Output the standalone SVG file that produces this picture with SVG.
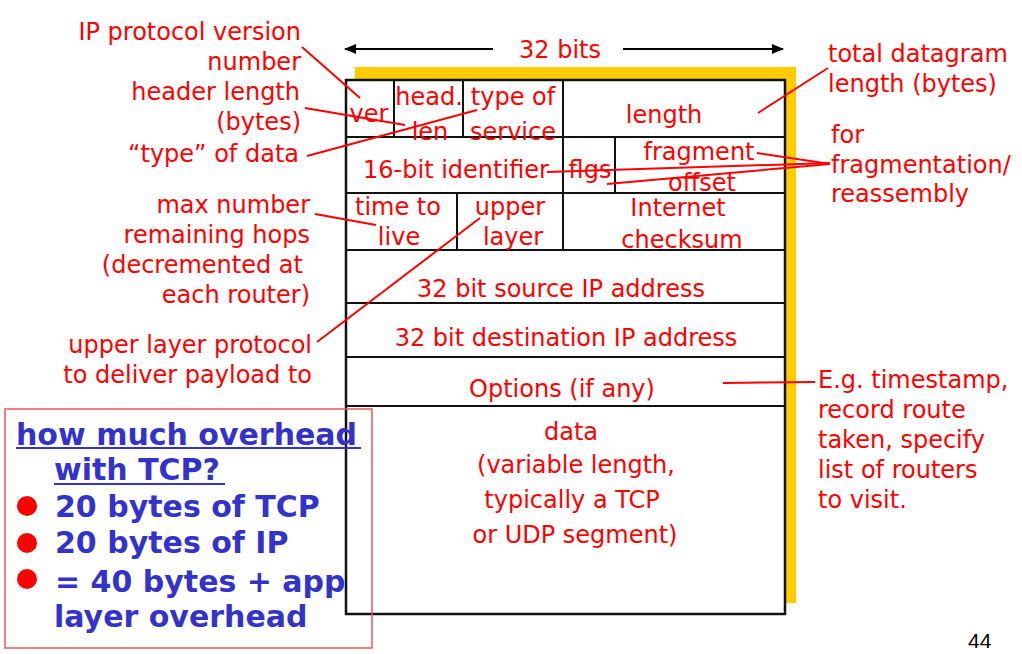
<svg xmlns="http://www.w3.org/2000/svg" width="1022" height="654" viewBox="0 0 1022 654">
<defs>
<style>
.lbl{font-family:"DejaVu Sans",sans-serif;font-size:24px;fill:#ff0000}
.c{text-anchor:middle}
.r{text-anchor:end}
.cell{fill:none;stroke:#111;stroke-width:2}
.ln{stroke:#ff0000;stroke-width:2;fill:none}
.blue{font-family:"DejaVu Sans",sans-serif;font-weight:bold;font-size:30px;fill:#3333cc}
</style>
<marker id="ah" markerWidth="12" markerHeight="10" refX="11" refY="5" orient="auto-start-reverse" markerUnits="userSpaceOnUse">
<path d="M0,0 L12,5 L0,10 z" fill="#000"/>
</marker>
</defs>
<rect width="1022" height="654" fill="#fff"/>

<g id="table">
<rect x="355" y="67" width="441" height="536" fill="#ffcc00"/>
<rect x="346" y="80" width="439" height="534" fill="#fff" stroke="#111" stroke-width="2.5"/>
<path class="cell" d="M346,137H785M346,193H785M346,250H785M346,303H785M346,357H785M346,406H785M394,80V137M463,80V137M563,80V250M615,137V193M457,193V250"/>
</g>

<g id="width-arrow">
<line x1="345" y1="49" x2="493" y2="49" stroke="#000" stroke-width="2" marker-start="url(#ah)"/>
<line x1="623" y1="49" x2="783" y2="49" stroke="#000" stroke-width="2" marker-end="url(#ah)"/>
<text class="lbl c" x="560" y="58">32 bits</text>
</g>

<g id="cells">
<text class="lbl c" x="369" y="122">ver</text>
<text class="lbl c" x="429" y="105">head.</text>
<text class="lbl c" x="430" y="140">len</text>
<text class="lbl c" x="513" y="105">type of</text>
<text class="lbl c" x="513" y="140">service</text>
<text class="lbl c" x="664" y="123">length</text>
<text class="lbl c" x="456" y="178">16-bit identifier</text>
<text class="lbl c" x="590" y="178">flgs</text>
<text class="lbl c" x="699" y="160">fragment</text>
<text class="lbl c" x="702" y="191">offset</text>
<text class="lbl c" x="398" y="215">time to</text>
<text class="lbl c" x="399" y="245">live</text>
<text class="lbl c" x="510" y="215">upper</text>
<text class="lbl c" x="513" y="245">layer</text>
<text class="lbl c" x="678" y="216">Internet</text>
<text class="lbl c" x="682" y="248">checksum</text>
<text class="lbl c" x="561" y="297">32 bit source IP address</text>
<text class="lbl c" x="566" y="346">32 bit destination IP address</text>
<text class="lbl c" x="562" y="397">Options (if any)</text>
<text class="lbl c" x="571" y="440">data</text>
<text class="lbl c" x="576" y="473">(variable length,</text>
<text class="lbl c" x="572" y="508">typically a TCP</text>
<text class="lbl c" x="575" y="543">or UDP segment)</text>
</g>

<g id="left-labels">
<text class="lbl r" x="301" y="40">IP protocol version</text>
<text class="lbl r" x="301" y="70">number</text>
<text class="lbl r" x="300" y="100">header length</text>
<text class="lbl r" x="301" y="130">(bytes)</text>
<text class="lbl r" x="299" y="162">“type” of data</text>
<text class="lbl r" x="310" y="213">max number</text>
<text class="lbl r" x="310" y="243">remaining hops</text>
<text class="lbl r" x="303" y="273">(decremented at</text>
<text class="lbl r" x="310" y="303">each router)</text>
<text class="lbl r" x="312" y="353">upper layer protocol</text>
<text class="lbl r" x="312" y="383">to deliver payload to</text>
</g>

<g id="right-labels">
<text class="lbl" x="828" y="62">total datagram</text>
<text class="lbl" x="828" y="92">length (bytes)</text>
<text class="lbl" x="831" y="143">for</text>
<text class="lbl" x="831" y="173">fragmentation/</text>
<text class="lbl" x="831" y="202">reassembly</text>
<text class="lbl" x="818" y="388">E.g. timestamp,</text>
<text class="lbl" x="818" y="418">record route</text>
<text class="lbl" x="818" y="448">taken, specify</text>
<text class="lbl" x="818" y="478">list of routers</text>
<text class="lbl" x="818" y="508">to visit.</text>
</g>

<g id="connectors">
<line class="ln" x1="302" y1="47" x2="360" y2="98"/>
<line class="ln" x1="305" y1="108" x2="405" y2="125"/>
<line class="ln" x1="307" y1="156" x2="477" y2="110"/>
<line class="ln" x1="315" y1="214" x2="376" y2="225"/>
<line class="ln" x1="317" y1="342" x2="480" y2="218"/>
<line class="ln" x1="758" y1="113" x2="828" y2="68"/>
<line class="ln" x1="547" y1="172" x2="830" y2="163"/>
<line class="ln" x1="607" y1="184" x2="830" y2="164"/>
<line class="ln" x1="757" y1="153" x2="830" y2="164"/>
<line class="ln" x1="723" y1="383" x2="815" y2="382"/>
</g>

<g id="overhead-box">
<rect x="5" y="409" width="367" height="239" fill="none" stroke="#ee5555" stroke-width="1.5"/>
<text class="blue" x="16" y="445">how much overhead</text>
<line x1="16" y1="448" x2="361" y2="448" stroke="#3333cc" stroke-width="2"/>
<text class="blue" x="54" y="480">with TCP?</text>
<line x1="54" y1="484" x2="225" y2="484" stroke="#3333cc" stroke-width="2"/>
<circle cx="27" cy="506" r="10" fill="#ff0000"/>
<text class="blue" x="55" y="517">20 bytes of TCP</text>
<circle cx="27" cy="543" r="10" fill="#ff0000"/>
<text class="blue" x="55" y="553">20 bytes of IP</text>
<circle cx="27" cy="579" r="10" fill="#ff0000"/>
<text class="blue" x="55" y="592">= 40 bytes + app</text>
<text class="blue" x="54" y="627">layer overhead</text>
</g>

<text x="968" y="648" font-family="Liberation Sans, sans-serif" font-size="21" fill="#000">44</text>
</svg>
